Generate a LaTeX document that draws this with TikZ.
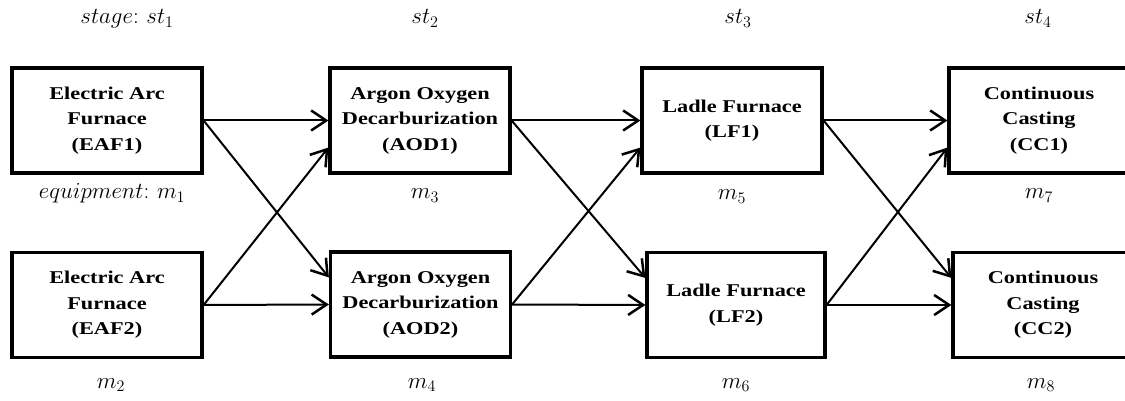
\documentclass[tikz,border=0pt]{standalone}
\usepackage{fix-cm}
\usepackage{fontspec}
\newfontfamily\boxfont[FakeStretch=1.24]{Liberation Serif}
\usetikzlibrary{arrows.meta,calc}

\begin{document}
\begin{tikzpicture}[x=1pt,y=-1pt,
  unit/.style={draw, line width=3.2pt, minimum height=105pt, align=center,
    inner sep=0pt, font=\boxfont\bfseries\fontsize{18}{25.5}\selectfont},
  flow/.style={line width=2pt,
    -{Straight Barb[length=15pt,width=20pt,line width=2.5pt]}},
  lbl/.style={anchor=base, inner sep=0pt, font=\fontsize{23}{26}\selectfont}]

\useasboundingbox (0,0) rectangle (1125,401);
\clip (0,0) rectangle (1125,401);

% stage 1: electric arc furnaces
\node[unit, minimum width=190pt] (eaf1) at (107,120.5) {Electric Arc\\Furnace\\(EAF1)};
\node[unit, minimum width=190pt] (eaf2) at (107,305)   {Electric Arc\\Furnace\\(EAF2)};

% stage 2: argon oxygen decarburization
\node[unit, minimum width=180pt] (aod1) at (420,120.5) {Argon Oxygen\\Decarburization\\(AOD1)};
\node[unit, minimum width=180pt] (aod2) at (420.5,304.5) {Argon Oxygen\\Decarburization\\(AOD2)};

% stage 3: ladle furnaces
\node[unit, minimum width=180pt] (lf1) at (732,120.5) {Ladle Furnace\\(LF1)};
\node[unit, minimum width=178pt] (lf2) at (736,305)   {Ladle Furnace\\(LF2)};

% stage 4: continuous casting
\node[unit, minimum width=180pt] (cc1) at (1039,120.5) {Continuous\\Casting\\(CC1)};
\node[unit, minimum width=180pt] (cc2) at (1043,305)   {Continuous\\Casting\\(CC2)};

% routes between consecutive stages
\foreach \a/\b in {eaf/aod, aod/lf, lf/cc}{
  \draw[flow] (\a1.east) -- (\b1.west);
  \draw[flow] (\a1.east) -- ($(\b2.west)!0.5!(\b2.north west)$);
  \draw[flow] (\a2.east) -- (\b2.west);
  \draw[flow] (\a2.east) -- ($(\b1.west)!0.5!(\b1.south west)$);
}

% stage labels
\node[lbl] (st1) at (127,24)  {$stage\colon\, st_1$};
\node[lbl] (st2) at (425,24)  {$st_2$};
\node[lbl] (st3) at (738,24)  {$st_3$};
\node[lbl] (st4) at (1038,24) {$st_4$};

% equipment labels
\node[lbl] (m1) at (112,199)  {$equipment\colon\, m_1$};
\node[lbl] (m2) at (111,388)  {$m_2$};
\node[lbl] (m3) at (425,199)  {$m_3$};
\node[lbl] (m4) at (422,388)  {$m_4$};
\node[lbl] (m5) at (732,200)  {$m_5$};
\node[lbl] (m6) at (736,388)  {$m_6$};
\node[lbl] (m7) at (1039,199) {$m_7$};
\node[lbl] (m8) at (1041,388) {$m_8$};
\end{tikzpicture}
\end{document}
